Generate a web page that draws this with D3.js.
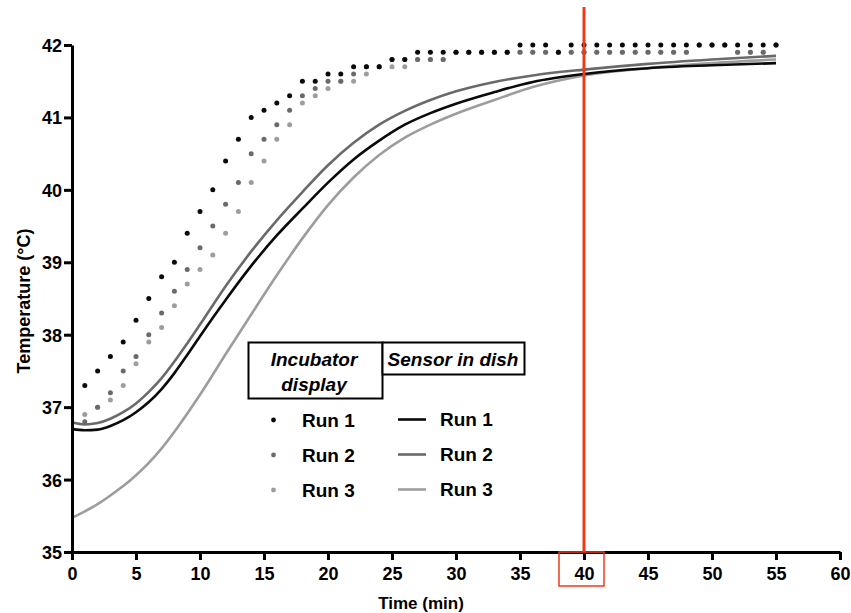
<!DOCTYPE html>
<html>
<head>
<meta charset="utf-8">
<script src="https://cdn.jsdelivr.net/npm/d3@7"></script>
<style>
  body { margin: 0; background: #fff; }
  text { font-family: "Liberation Sans", Arial, sans-serif; font-weight: bold; }
</style>
</head>
<body>
<div id="graphic"></div>
<script>
// incubator display readings, one per minute
const dotMinutes = [1,2,3,4,5,6,7,8,9,10,11,12,13,14,15,16,17,18,19,20,21,22,23,24,25,26,27,28,
  29,30,31,32,33,34,35,36,37,38,39,40,41,42,43,44,45,46,47,48,49,50,51,52,53,54,55];
const displayRun1 = [37.3,37.5,37.7,37.9,38.2,38.5,38.8,39.0,39.4,39.7,40.0,40.4,40.7,41.0,41.1,41.2,41.3,
  41.5,41.5,41.6,41.6,41.7,41.7,41.7,41.8,41.8,41.9,41.9,41.9,41.9,41.9,41.9,41.9,41.9,42.0,42.0,42.0,41.9,
  42.0,42.0,42.0,42.0,42.0,42.0,42.0,42.0,42.0,42.0,42.0,42.0,42.0,42.0,42.0,42.0,42.0];
const displayRun2 = [36.8,37.0,37.2,37.5,37.7,38.0,38.3,38.6,38.9,39.2,39.5,39.8,40.1,40.5,40.7,40.9,41.1,
  41.3,41.4,41.5,41.5,41.6,41.7,41.7,41.8,41.8,41.8,41.8,41.8,41.9,41.9,41.9,41.9,41.9,41.9,41.9,41.9,41.9,
  41.9,41.9,41.9,41.9,41.9,41.9,41.9,41.9,41.9,41.9,42.0,42.0,42.0,41.9,41.9,41.9,42.0];
const displayRun3 = [36.9,37.0,37.1,37.3,37.6,37.9,38.1,38.4,38.7,38.9,39.1,39.4,39.7,40.1,40.4,40.7,40.9,
  41.2,41.3,41.4,41.5,41.5,41.6,41.7,41.7,41.7,41.8,41.8,41.8,41.9,41.9,41.9,41.9,41.9,41.9,41.9,41.9,41.9,
  41.9,41.9,41.9,41.9,41.9,41.9,41.9,41.9,41.9,41.9,42.0,42.0,42.0,41.9,41.9,41.9,42.0];

// sensor in dish readings
const sensorMinutes = [0,1,2,3,4,5,6,7,8,9,10,12,14,16,18,20,22,24,26,28,30,33,36,40,45,50,55];
const sensorRun1 = [36.70,36.68,36.69,36.74,36.82,36.93,37.07,37.25,37.47,37.72,37.98,38.48,38.95,39.37,
  39.74,40.10,40.42,40.68,40.90,41.06,41.19,41.35,41.49,41.60,41.68,41.72,41.75];
const sensorRun2 = [36.79,36.76,36.78,36.84,36.93,37.05,37.21,37.40,37.63,37.88,38.14,38.67,39.15,39.58,
  39.97,40.34,40.65,40.90,41.09,41.24,41.36,41.49,41.58,41.66,41.74,41.80,41.85];
const sensorRun3 = [35.47,35.56,35.66,35.78,35.91,36.06,36.23,36.43,36.66,36.91,37.17,37.73,38.28,38.82,
  39.33,39.79,40.17,40.48,40.72,40.90,41.05,41.24,41.42,41.58,41.68,41.75,41.80];

const xTicks = [0,5,10,15,20,25,30,35,40,45,50,55,60];
const yTicks = [35,36,37,38,39,40,41,42];
const runNames = ['Run 1', 'Run 2', 'Run 3'];
const markedMinute = 40;

const width = 851;
const height = 613;
const colors = ['#0a0a0a', '#6a6a6a', '#9d9d9d'];

const svg = d3.select('#graphic')
  .append('svg')
  .attr('width', width)
  .attr('height', height);

const x = d3.scaleLinear().domain([0, 60]).range([72, 840]);
const y = d3.scaleLinear().domain([35, 42]).range([552, 45]);

// sensor curves
const line = d3.line()
  .x(d => x(d[0]))
  .y(d => y(d[1]))
  .curve(d3.curveMonotoneX);

[sensorRun3, sensorRun2, sensorRun1].forEach((run, i) => {
  svg.append('path')
    .datum(sensorMinutes.map((m, k) => [m, run[k]]))
    .attr('fill', 'none')
    .attr('stroke', colors[2 - i])
    .attr('stroke-width', 2.6)
    .attr('d', line);
});

// display dots (run 1 on top)
[displayRun3, displayRun2, displayRun1].forEach((run, i) => {
  svg.append('g')
    .selectAll('circle')
    .data(dotMinutes.map((m, k) => [m, run[k]]))
    .enter()
    .append('circle')
    .attr('cx', d => x(d[0]))
    .attr('cy', d => y(d[1]))
    .attr('r', 2.5)
    .attr('fill', colors[2 - i]);
});

// axes
const axisX = d3.axisBottom(x).tickValues(xTicks).tickSize(8).tickSizeOuter(0).tickPadding(7);
const axisY = d3.axisLeft(y).tickValues(yTicks).tickFormat(d3.format('d'))
  .tickSize(8).tickSizeOuter(0).tickPadding(2);

const gx = svg.append('g')
  .attr('transform', `translate(0, ${y(35)})`)
  .call(axisX);
const gy = svg.append('g')
  .attr('transform', `translate(${x(0)}, 0)`)
  .call(axisY);

[gx, gy].forEach(g => {
  g.select('.domain').attr('stroke', '#000').attr('stroke-width', 3);
  g.selectAll('.tick line').attr('stroke', '#000').attr('stroke-width', 3);
  g.selectAll('.tick text')
    .attr('fill', '#000')
    .style('font-size', '18px')
    .style('font-weight', 'bold')
    .style('font-family', '"Liberation Sans", Arial, sans-serif');
});
gy.selectAll('.tick text').attr('dy', '0.36em');

svg.append('text')
  .attr('x', 421)
  .attr('y', 609)
  .attr('text-anchor', 'middle')
  .style('font-size', '17px')
  .text('Time (min)');

svg.append('text')
  .attr('transform', 'translate(30, 301) rotate(-90)')
  .attr('text-anchor', 'middle')
  .style('font-size', '18px')
  .text('Temperature (°C)');

// red marker at 40 min
svg.append('line')
  .attr('x1', x(markedMinute))
  .attr('x2', x(markedMinute))
  .attr('y1', 7)
  .attr('y2', y(35))
  .attr('stroke', '#ee3a1c')
  .attr('stroke-width', 3);

svg.append('rect')
  .attr('x', x(markedMinute) - 25)
  .attr('y', y(35))
  .attr('width', 45)
  .attr('height', 34)
  .attr('fill', 'none')
  .attr('stroke', '#ee3a1c')
  .attr('stroke-width', 1.5);

// legend
const legend = svg.append('g');

legend.append('rect')
  .attr('x', 248.5).attr('y', 342.5)
  .attr('width', 134).attr('height', 56)
  .attr('fill', '#fff').attr('stroke', '#000').attr('stroke-width', 2);
legend.append('rect')
  .attr('x', 382.5).attr('y', 342.5)
  .attr('width', 142).attr('height', 32)
  .attr('fill', '#fff').attr('stroke', '#000').attr('stroke-width', 2);

const headers = [
  {t: 'Incubator', x: 314, y: 366},
  {t: 'display', x: 314, y: 391},
  {t: 'Sensor in dish', x: 453, y: 366}
];
legend.selectAll('.hdr')
  .data(headers)
  .enter()
  .append('text')
  .attr('class', 'hdr')
  .attr('x', d => d.x)
  .attr('y', d => d.y)
  .attr('text-anchor', 'middle')
  .style('font-size', '19px')
  .style('font-style', 'italic')
  .text(d => d.t);

const rowY = [420, 455, 490];

runNames.forEach((name, i) => {
  legend.append('circle')
    .attr('cx', 273.5)
    .attr('cy', rowY[i])
    .attr('r', 2.4)
    .attr('fill', colors[i]);
  legend.append('text')
    .attr('x', 302)
    .attr('y', rowY[i] + 7)
    .style('font-size', '19px')
    .text(name);
  legend.append('line')
    .attr('x1', 398)
    .attr('x2', 426)
    .attr('y1', rowY[i] - 0.5)
    .attr('y2', rowY[i] - 0.5)
    .attr('stroke', colors[i])
    .attr('stroke-width', 2.6);
  legend.append('text')
    .attr('x', 440)
    .attr('y', rowY[i] + 6)
    .style('font-size', '19px')
    .text(name);
});
</script>
</body>
</html>
